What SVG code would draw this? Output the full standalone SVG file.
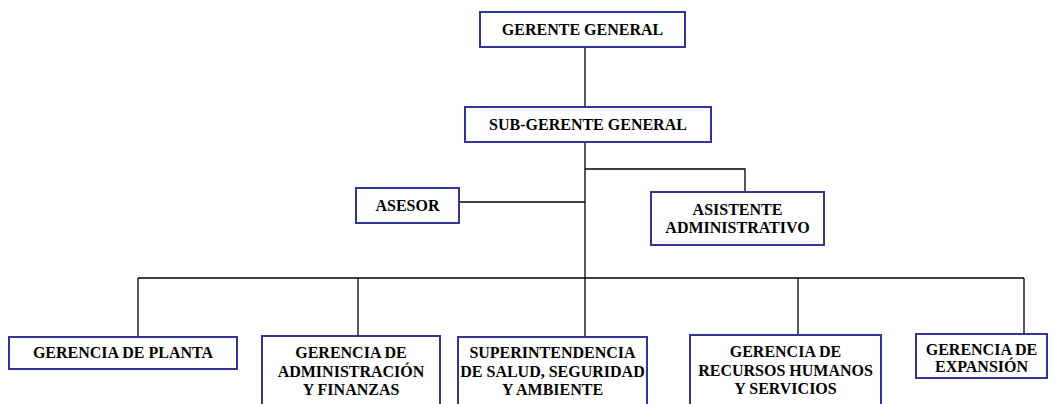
<svg xmlns="http://www.w3.org/2000/svg" width="1053" height="404" viewBox="0 0 1053 404">
<style>
.box{fill:#fff;stroke:#33339a;stroke-width:2}
.t{font-family:"Liberation Serif","Times New Roman",serif;font-weight:bold;font-size:16px;fill:#000;text-anchor:middle}
.c{fill:none;stroke:#000;stroke-width:1.3}
</style>
<rect width="1053" height="404" fill="#fff"/>
<g id="connectors">
<path class="c" d="M585,47V107"/>
<path class="c" d="M585,142V278"/>
<path class="c" d="M585,169H745V192"/>
<path class="c" d="M459,202H585"/>
<path class="c" d="M138,278H1024"/>
<path class="c" d="M138,278V337"/>
<path class="c" d="M358,278V336"/>
<path class="c" d="M585,278V337"/>
<path class="c" d="M798,278V335"/>
<path class="c" d="M1024,278V334"/>
</g>
<g id="gerente-general"><rect class="box" x="480" y="12" width="205" height="35"/><text class="t" x="582.5" y="35">GERENTE GENERAL</text></g>
<g id="sub-gerente-general"><rect class="box" x="465" y="107" width="246" height="35"/><text class="t" x="588" y="130">SUB-GERENTE GENERAL</text></g>
<g id="asesor"><rect class="box" x="356" y="188" width="103" height="35"/><text class="t" x="407.5" y="211">ASESOR</text></g>
<g id="asistente"><rect class="box" x="651" y="192" width="173" height="53"/><text class="t" x="737.5" y="215">ASISTENTE</text><text class="t" x="737.5" y="233">ADMINISTRATIVO</text></g>
<g id="gerencia-planta"><rect class="box" x="9" y="337" width="228" height="32"/><text class="t" x="123" y="358">GERENCIA DE PLANTA</text></g>
<g id="gerencia-admin"><rect class="box" x="262" y="336" width="178" height="80"/><text class="t" x="351" y="358">GERENCIA DE</text><text class="t" x="351" y="377">ADMINISTRACIÓN</text><text class="t" x="351" y="395">Y FINANZAS</text></g>
<g id="superintendencia"><rect class="box" x="458" y="337" width="189" height="80"/><text class="t" x="552.5" y="358">SUPERINTENDENCIA</text><text class="t" x="552.5" y="377">DE SALUD, SEGURIDAD</text><text class="t" x="552.5" y="395">Y AMBIENTE</text></g>
<g id="gerencia-rrhh"><rect class="box" x="690" y="335" width="191" height="80"/><text class="t" x="785.5" y="357">GERENCIA DE</text><text class="t" x="785.5" y="376">RECURSOS HUMANOS</text><text class="t" x="785.5" y="394">Y SERVICIOS</text></g>
<g id="gerencia-expansion"><rect class="box" x="916" y="334" width="131" height="44"/><text class="t" x="981.5" y="355">GERENCIA DE</text><text class="t" x="981.5" y="372">EXPANSIÓN</text></g>
</svg>
